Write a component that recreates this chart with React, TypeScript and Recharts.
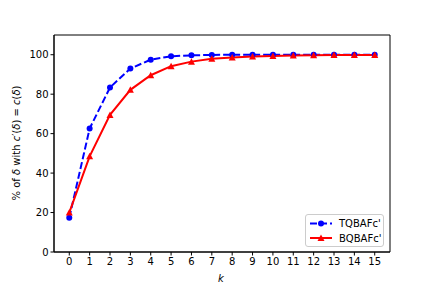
import { Line, LineChart, ReferenceArea, XAxis, YAxis } from "recharts";

const kValues = [0, 1, 2, 3, 4, 5, 6, 7, 8, 9, 10, 11, 12, 13, 14, 15];
const tqbafc = [17.4, 62.6, 83.4, 93.0, 97.5, 99.2, 99.7, 99.9, 100, 100, 100, 100, 100, 100, 100, 100];
const bqbafc = [20.0, 48.5, 69.5, 82.2, 89.6, 94.2, 96.5, 97.9, 98.6, 99.1, 99.4, 99.6, 99.7, 99.8, 99.9, 99.9];
const yTicks = [0, 20, 40, 60, 80, 100];

const data = kValues.map((k, i) => ({ k, tq: tqbafc[i], bq: bqbafc[i] }));

const font = "'DejaVu Sans', sans-serif";
const ink = "#000";

function Triangle({ cx, cy, index }: any) {
  if (cx == null || cy == null) return <g key={index} />;
  return <polygon key={index} points={`${cx},${cy - 3.5} ${cx - 3.5},${cy + 3} ${cx + 3.5},${cy + 3}`} fill="#ff0000" />;
}

function LegendBox() {
  return (
    <div
      style={{
        position: "absolute",
        left: 305,
        top: 214,
        width: 79,
        height: 33,
        border: "1px solid #cccccc",
        borderRadius: 3,
        background: "rgba(255,255,255,0.8)",
        boxSizing: "border-box",
      }}
    >
      <svg width={79} height={33} style={{ position: "absolute", left: -1, top: -1 }}>
        <line x1={5} x2={27} y1={9.5} y2={9.5} stroke="#0000ff" strokeWidth={2} strokeDasharray="7 3" />
        <circle cx={16} cy={9.5} r={3} fill="#0000ff" />
        <line x1={5} x2={27} y1={24} y2={24} stroke="#ff0000" strokeWidth={2} />
        <polygon points="16,20.5 12.5,27 19.5,27" fill="#ff0000" />
        <text x={34} y={13} fontFamily={font} fontSize={10} fill={ink}>TQBAFc'</text>
        <text x={34} y={27.5} fontFamily={font} fontSize={10} fill={ink}>BQBAFc'</text>
      </svg>
    </div>
  );
}

export default function App() {
  return (
    <div style={{ position: "relative", width: 432, height: 288 }}>
      <style>{`body{margin:0}`}</style>
      <LineChart width={432} height={288} data={data} margin={{ top: 35, right: 42, bottom: 0, left: 0 }}>
        <XAxis
          dataKey="k"
          type="number"
          domain={[-0.75, 15.75]}
          ticks={kValues}
          interval={0}
          allowDataOverflow
          stroke={ink}
          tick={{ fill: ink, fontFamily: font, fontSize: 10 }}
          tickSize={3.5}
          height={36}
        />
        <YAxis
          type="number"
          domain={[0, 110]}
          ticks={yTicks}
          allowDataOverflow
          stroke={ink}
          tick={{ fill: ink, fontFamily: font, fontSize: 10 }}
          tickSize={3.5}
          width={54}
        />
        <ReferenceArea x1={-0.75} x2={15.75} y1={0} y2={110} fill="none" stroke={ink} strokeWidth={1} ifOverflow="visible" />
        <Line
          dataKey="tq"
          stroke="#0000ff"
          strokeWidth={2}
          strokeDasharray="7 3"
          dot={{ r: 3, fill: "#0000ff", stroke: "#0000ff", strokeWidth: 0, strokeDasharray: "" }}
          isAnimationActive={false}
        />
        <Line dataKey="bq" stroke="#ff0000" strokeWidth={2} dot={Triangle} isAnimationActive={false} />
      </LineChart>
      <LegendBox />
      <svg width={432} height={288} style={{ position: "absolute", left: 0, top: 0, pointerEvents: "none" }}>
        <text x={221} y={282} textAnchor="middle" fontFamily={font} fontSize={10} fontStyle="italic" fill={ink}>k</text>
        <text transform="translate(20,143) rotate(-90)" textAnchor="middle" fontFamily={font} fontSize={10} fill={ink}>
          % of <tspan fontStyle="italic">δ</tspan> with <tspan fontStyle="italic">c</tspan>′(<tspan fontStyle="italic">δ</tspan>) = <tspan fontStyle="italic">c</tspan>(<tspan fontStyle="italic">δ</tspan>)
        </text>
      </svg>
    </div>
  );
}
